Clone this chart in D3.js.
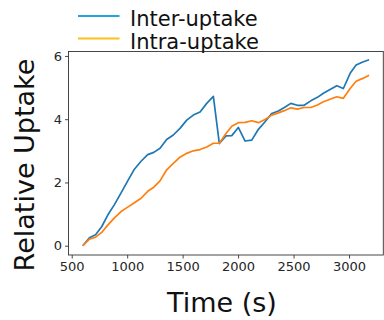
<!DOCTYPE html>
<html>
<head>
<meta charset="utf-8">
<script src="https://cdn.jsdelivr.net/npm/d3@7/dist/d3.min.js"></script>
<style>
  html, body { margin: 0; padding: 0; background: #fff; }
  svg { display: block; font-family: "DejaVu Sans", sans-serif; }
</style>
</head>
<body>
<svg id="chart" width="384" height="320"></svg>
<script>
// time points (s)
const times = [600, 660, 715, 770, 825, 885, 945, 1005, 1065, 1125, 1185, 1240, 1296, 1356, 1416,
  1476, 1537, 1596, 1657, 1717, 1777, 1831, 1891, 1943, 2002, 2063, 2123, 2183, 2243, 2303,
  2363, 2417, 2475, 2534, 2595, 2655, 2715, 2769, 2829, 2890, 2949, 3010, 3064, 3124, 3181];

const interUptake = [0, 0.25, 0.35, 0.6, 0.97, 1.3, 1.67, 2.05, 2.42, 2.67, 2.88, 2.95, 3.08, 3.36, 3.5,
  3.71, 3.97, 4.13, 4.23, 4.5, 4.72, 3.23, 3.47, 3.48, 3.74, 3.31, 3.34, 3.68, 3.92, 4.18,
  4.26, 4.37, 4.5, 4.44, 4.44, 4.58, 4.69, 4.82, 4.94, 5.06, 4.97, 5.45, 5.71, 5.81, 5.88];

const intraUptake = [0, 0.21, 0.27, 0.42, 0.65, 0.88, 1.08, 1.22, 1.36, 1.5, 1.72, 1.85, 2.05, 2.4, 2.6,
  2.8, 2.92, 3.0, 3.04, 3.12, 3.24, 3.24, 3.55, 3.78, 3.89, 3.9, 3.95, 3.89, 3.99, 4.13,
  4.2, 4.27, 4.36, 4.32, 4.37, 4.37, 4.45, 4.55, 4.63, 4.71, 4.66, 4.97, 5.2, 5.29, 5.39];

const xTicks = [500, 1000, 1500, 2000, 2500, 3000];
const yTicks = [0, 2, 4, 6];

const seriesNames = ['Inter-uptake', 'Intra-uptake'];
const lineColors = ['#1f77b4', '#ff7f0e'];
const legendColors = ['#1fa6e0', '#ffbf1f'];

const svg = d3.select('#chart');

const plot = { left: 68.5, right: 383.3, top: 51.5, bottom: 255 };

const x = d3.scaleLinear().domain([471, 3309]).range([plot.left, plot.right]);
const y = d3.scaleLinear().domain([-0.293, 6.14]).range([plot.bottom, plot.top]);

const axisColor = '#333';

//
// AXES
//

const xAxis = svg.append('g')
  .attr('transform', `translate(0,${plot.bottom})`)
  .call(d3.axisBottom(x).tickValues(xTicks).tickSize(3.5).tickPadding(3).tickFormat(d3.format('d')));

const yAxis = svg.append('g')
  .attr('transform', `translate(${plot.left},0)`)
  .call(d3.axisLeft(y).tickValues(yTicks).tickSize(3.5).tickPadding(3).tickFormat(d3.format('d')));

[xAxis, yAxis].forEach((a) => {
  a.select('.domain').remove();
  a.selectAll('line').attr('stroke', axisColor).attr('stroke-width', 0.9);
  a.selectAll('text')
    .attr('fill', '#262626')
    .style('font-family', '"DejaVu Sans", sans-serif')
    .style('font-size', '13px');
});

// frame
svg.append('rect')
  .attr('x', plot.left)
  .attr('y', plot.top)
  .attr('width', plot.right - plot.left)
  .attr('height', plot.bottom - plot.top)
  .attr('fill', 'none')
  .attr('stroke', axisColor)
  .attr('stroke-width', 0.9);

//
// LINES
//

const line = d3.line()
  .x((d) => x(d[0]))
  .y((d) => y(d[1]));

[interUptake, intraUptake].forEach((vals, i) => {
  svg.append('path')
    .datum(times.map((t, j) => [t, vals[j]]))
    .attr('fill', 'none')
    .attr('stroke', lineColors[i])
    .attr('stroke-width', 1.7)
    .attr('stroke-linejoin', 'round')
    .attr('d', line);
});

//
// LEGEND
//

const legend = svg.append('g');
seriesNames.forEach((name, i) => {
  const cy = 16 + i * 22.6;
  legend.append('line')
    .attr('x1', 78).attr('x2', 119.5)
    .attr('y1', cy).attr('y2', cy)
    .attr('stroke', legendColors[i])
    .attr('stroke-width', 2);
  legend.append('text')
    .attr('x', 130)
    .attr('y', cy + 10)
    .attr('fill', '#111')
    .style('font-size', '21px')
    .text(name);
});

//
// AXIS LABELS
//

svg.append('text')
  .attr('x', 222)
  .attr('y', 312)
  .attr('text-anchor', 'middle')
  .attr('fill', '#111')
  .style('font-size', '27px')
  .text('Time (s)');

svg.append('text')
  .attr('transform', 'translate(34,165) rotate(-90)')
  .attr('text-anchor', 'middle')
  .attr('fill', '#111')
  .style('font-size', '27px')
  .text('Relative Uptake');
</script>
</body>
</html>
